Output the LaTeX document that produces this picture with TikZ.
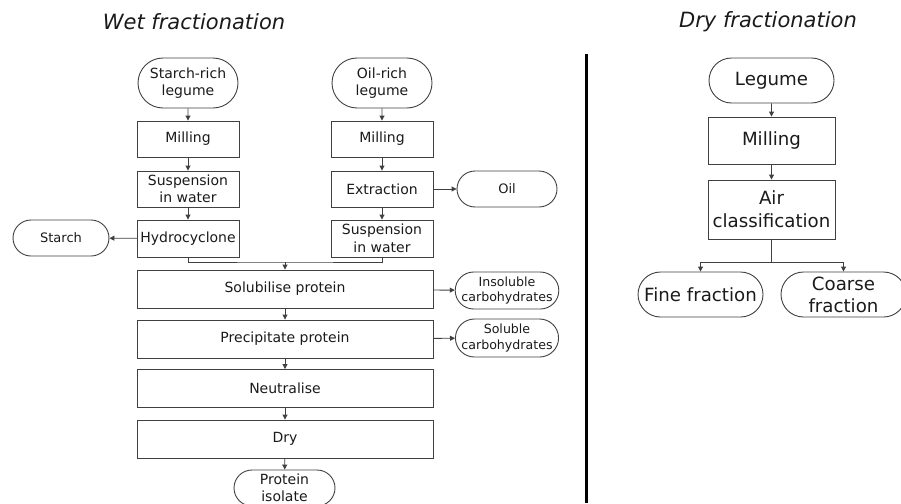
\documentclass[tikz,border=0pt]{standalone}
\usepackage{fontspec}
\setmainfont{DejaVu Sans}
\usetikzlibrary{shapes.misc,arrows.meta}
\definecolor{ln}{HTML}{404040}
\definecolor{tx}{HTML}{1A1A1A}
\begin{document}
\begin{tikzpicture}[x=1pt,y=-1pt,
  base/.style={draw=ln,line width=0.9pt,text=tx,align=center,inner sep=1pt},
  boxA/.style={base,rectangle,minimum width=102pt,minimum height=36pt,font=\fontsize{14}{17.5}\selectfont},
  termA/.style={base,rounded rectangle,minimum width=102pt,minimum height=36pt,font=\fontsize{14}{17.5}\selectfont},
  termS/.style={base,rounded rectangle,minimum width=102pt,minimum height=37pt,font=\fontsize{12.6}{15.5}\selectfont},
  wide/.style={base,rectangle,minimum width=296pt,minimum height=38pt,font=\fontsize{14}{17.5}\selectfont},
  boxB/.style={base,rectangle,minimum width=127pt,font=\fontsize{18.2}{23}\selectfont},
  termB/.style={base,rounded rectangle,minimum width=127pt,minimum height=45pt,font=\fontsize{18.2}{22}\selectfont},
  title/.style={font=\fontsize{21}{24}\selectfont\itshape,text=tx},
  arr/.style={draw=ln,line width=0.9pt,-{Triangle[length=5pt,width=5pt]}},
  con/.style={draw=ln,line width=0.9pt}]
\clip (0,0) rectangle (901,503);
\useasboundingbox (0,0) rectangle (901,503);
% titles
\node[title] (tw) at (194,22) {Wet fractionation};
\node[title] (td) at (768,22) {Dry fractionation};
% wet, left column
\node[termA,minimum height=50pt] (sr) at (188,83) {Starch-rich\\legume};
\node[boxA] (m1) at (188,139) {Milling};
\node[boxA] (s1) at (188,189) {Suspension\\in water};
\node[boxA,minimum height=37pt] (h1) at (188,238.5) {Hydrocyclone};
\node[termA,minimum width=98pt] (st) at (61,238) {\fontsize{13}{16}\selectfont Starch};
% wet, right column
\node[termA,minimum height=50pt] (or) at (382,83) {Oil-rich\\legume};
\node[boxA] (m2) at (382,139) {Milling};
\node[boxA] (e2) at (382,189) {Extraction};
\node[boxA,minimum height=37pt] (s2) at (382,238.5) {Suspension\\in water};
\node[termA] (oil) at (507,189) {\fontsize{13}{16}\selectfont Oil};
% wet, common
\coordinate (mg) at (285,262);
\node[wide] (sol) at (285,289) {Solubilise protein};
\node[wide] (pre) at (285,339) {Precipitate protein};
\node[wide] (neu) at (285,388.5) {Neutralise};
\node[wide] (dry) at (285,439) {Dry};
\node[termA,minimum width=103pt] (pi) at (284.5,488) {Protein\\isolate};
\node[termS,inner sep=0pt] (ins) at (507,290.5) {Insoluble\\carbohydrates};
\node[termS,inner sep=0pt,minimum height=38pt] (sc) at (507,338) {Soluble\\carbohydrates};
% connectors wet
\draw[arr] (sr) -- (m1);
\draw[arr] (m1) -- (s1);
\draw[arr] (s1) -- (h1);
\draw[arr] (h1) -- (st);
\draw[arr] (or) -- (m2);
\draw[arr] (m2) -- (e2);
\draw[arr] (e2) -- (s2);
\draw[arr] (e2) -- (oil);
\draw[con] (h1.south) |- (mg) -| (s2.south);
\draw[arr] (mg) -- (sol);
\draw[arr] (sol) -- (pre);
\draw[arr] (pre) -- (neu);
\draw[arr] (neu) -- (dry);
\draw[arr] (dry) -- (pi);
\draw[arr] (sol) -- (ins);
\draw[arr] (pre) -- (sc);
% separator
\coordinate (bt) at (586,54);
\coordinate (bb) at (586,503);
\draw[line width=3pt,black] (bt) -- (bb);
% dry
\node[termB] (lg) at (771.5,80.5) {Legume};
\node[boxB,minimum height=47pt] (ml) at (771.5,140.5) {Milling};
\node[boxB,minimum height=59pt] (ac) at (771.5,209.5) {Air\\classification};
\node[termB] (ff) at (700.5,294.5) {Fine fraction};
\node[termB] (cf) at (843.5,294.5) {Coarse\\fraction};
\coordinate (br) at (771.5,262);
\draw[arr] (lg) -- (ml);
\draw[arr] (ml) -- (ac);
\draw[con] (ac.south) -- (br);
\draw[arr] (br) -| (ff.north);
\draw[arr] (br) -| (cf.north);
\end{tikzpicture}
\end{document}
